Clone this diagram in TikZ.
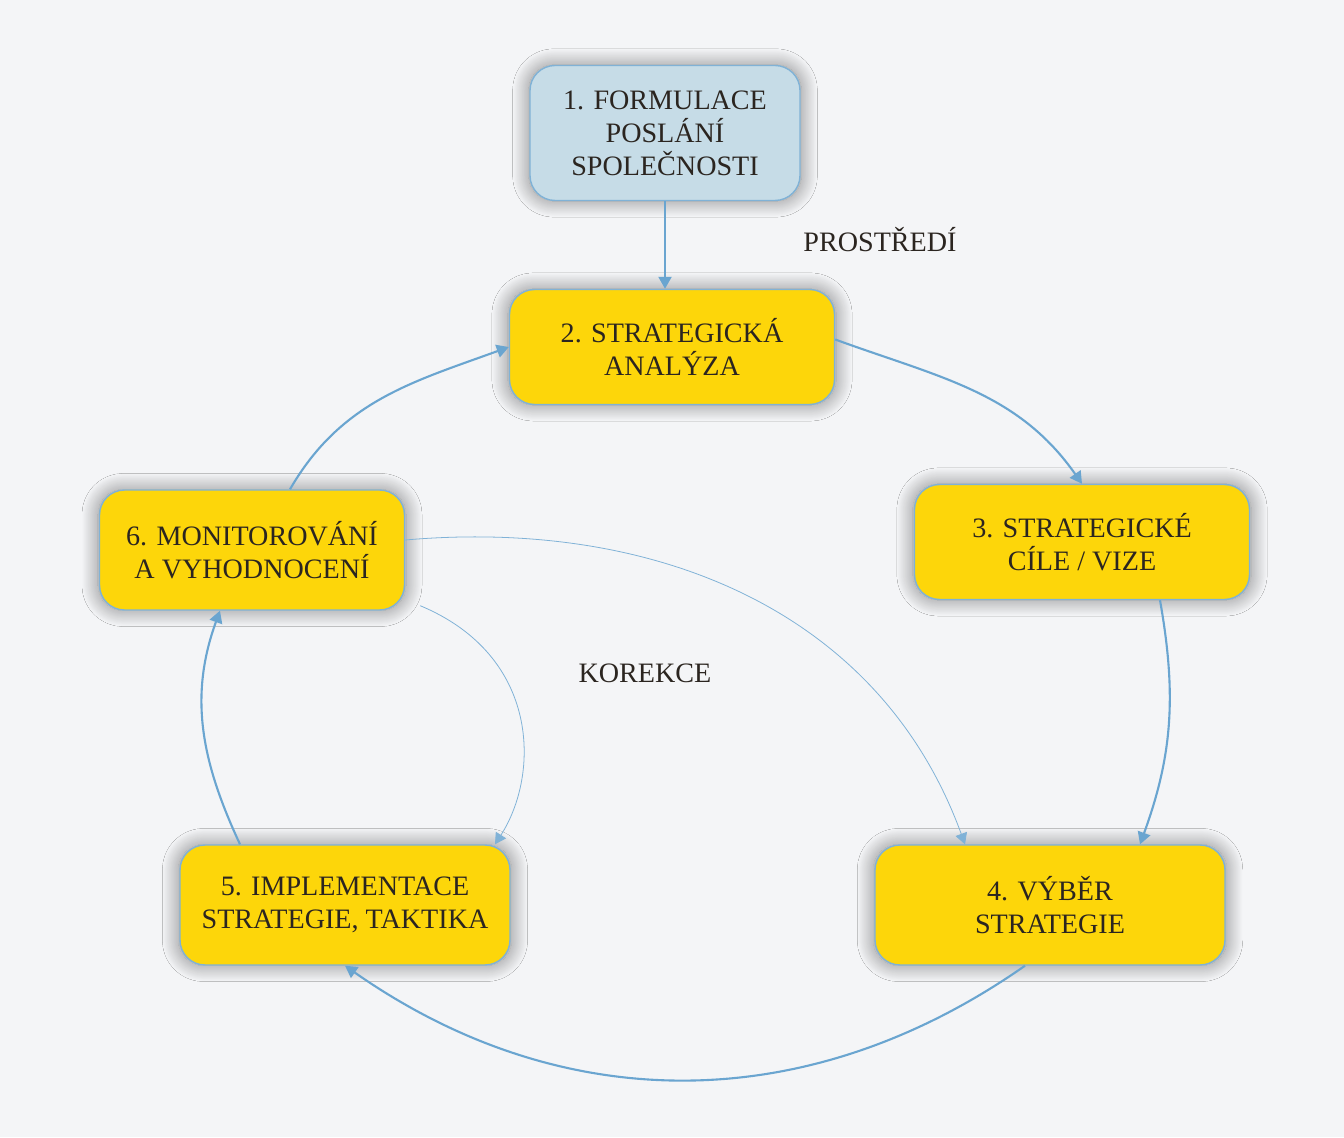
\documentclass[tikz,border=0pt]{standalone}
\usepackage{fontspec}
\setmainfont{Liberation Serif}
\usetikzlibrary{calc, arrows.meta, shadows.blur}

\definecolor{boxyellow}{HTML}{FDD60A}
\definecolor{boxblue}{HTML}{C6DCE7}
\definecolor{edgeblue}{HTML}{80B2D6}
\definecolor{linkblue}{HTML}{6AA5D0}
\definecolor{pagegray}{HTML}{F4F5F7}
\definecolor{inkgray}{HTML}{2B2520}

\tikzset{
    stage/.style = {rectangle, rounded corners = 0.5cm, fill = boxyellow,
        draw = edgeblue, line width = 0.8pt, align = center, text = inkgray,
        font = \fontsize{16}{18.7}\selectfont,
        blur shadow = {shadow xshift = 0pt, shadow yshift = 0pt, shadow scale = 1.01,
            shadow blur radius = 9pt, shadow blur steps = 24,
            shadow opacity = 45}},
    link/.style = {draw = linkblue, line width = 1.2pt,
        -{Triangle[length = 2.4mm, width = 2.6mm]}},
    thinlink/.style = {draw = linkblue!85, line width = 0.45pt,
        -{Triangle[length = 2.2mm, width = 2.4mm]}},
    tag/.style = {text = inkgray, font = \fontsize{16}{18.7}\selectfont}
}

\begin{document}
\begin{tikzpicture}
    \useasboundingbox[fill = pagegray] (0,0) rectangle (26.88,22.74);
    % stages of the cycle
    \node[stage, fill = boxblue, minimum width = 5.4cm, minimum height = 2.7cm]
        (formul) at (13.3,20.08) {1. FORMULACE\\POSLÁNÍ\\SPOLEČNOSTI};
    \node[stage, minimum width = 6.5cm, minimum height = 2.3cm]
        (analyza) at (13.44,15.8) {2. STRATEGICKÁ\\ANALÝZA};
    \node[stage, minimum width = 6.7cm, minimum height = 2.3cm]
        (cile) at (21.64,11.9) {3. STRATEGICKÉ\\CÍLE / VIZE};
    \node[stage, minimum width = 7.0cm, minimum height = 2.4cm]
        (vyber) at (21.0,4.64) {4. VÝBĚR\\STRATEGIE};
    \node[stage, minimum width = 6.6cm, minimum height = 2.4cm]
        (implem) at (6.9,4.64) {5. IMPLEMENTACE\\STRATEGIE, TAKTIKA};
    \node[stage, minimum width = 6.1cm, minimum height = 2.4cm]
        (monit) at (5.04,11.74) {6. MONITOROVÁNÍ\\A VYHODNOCENÍ};
    \node[tag] (prostredi) at (17.6,17.94) {PROSTŘEDÍ};
    \node[tag] (korekce) at (12.9,9.28) {KOREKCE};
    % main cycle
    \draw[link] (formul.south -| 13.3,0) -- (analyza.north -| 13.3,0);
    \draw[link] ($(analyza.east)+(0,0.15)$) to[out = -20, in = 125] (cile.north);
    \draw[link] ($(cile.south)+(1.56,0)$) to[out = -80, in = 70] ($(vyber.north)+(1.8,0)$);
    \draw[link] ($(vyber.south)+(-0.5,0)$) to[out = -145, in = -35] (implem.south);
    \draw[link] ($(implem.north)+(-2.1,0)$) to[out = 115, in = -110] ($(monit.south)+(-0.64,0)$);
    \draw[link] ($(monit.north)+(0.76,0)$) to[out = 60, in = -160] (analyza.west);
    % corrections
    \draw[thinlink] ($(monit.east)+(0,0.2)$) to[out = 5, in = 110] ($(vyber.north)+(-1.7,0)$);
    \draw[thinlink] ($(monit.south east)+(0.3,0.1)$) .. controls +(2.4,-1.0) and +(0.9,1.4)
        .. ($(implem.north)+(3.0,0)$);
\end{tikzpicture}
\end{document}
